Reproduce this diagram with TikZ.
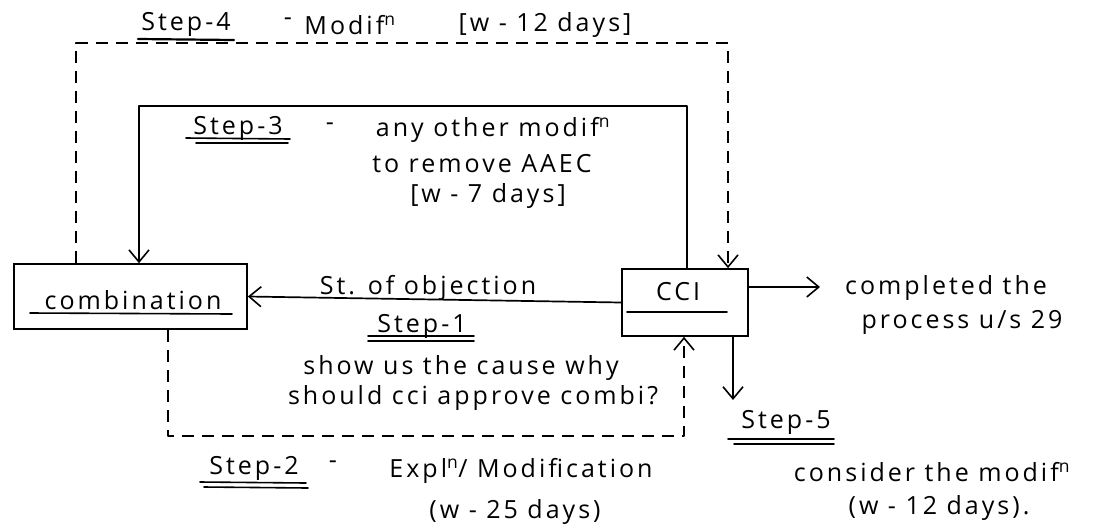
\documentclass[tikz,border=0pt]{standalone}
\usepackage{fontspec}
\setmainfont{Open Sans}[LetterSpace=12]
\usetikzlibrary{arrows.meta,calc}
\begin{document}
\begin{tikzpicture}[x=1pt,y=-1pt,
  hand/.style={line width=1.7pt, line cap=round, line join=round},
  dashline/.style={hand, line cap=butt, dash pattern=on 12pt off 8pt},
  tip/.style={-{Straight Barb[length=12pt,width=20pt,line width=1.6pt]}},
  box/.style={draw, line width=1.7pt, inner sep=0pt},
  lbl/.style={font=\fontsize{25}{30}\selectfont, inner sep=0pt},
  uline/.style={line width=1.6pt, line cap=round},
]
\useasboundingbox[fill=white] (0,0) rectangle (1110,528);

% the two parties
\node[box, minimum width=233pt, minimum height=65pt] (comb) at (130.5,296.5) {};
\node[box, minimum width=126pt, minimum height=67pt] (cci) at (685,302.5) {};
\node[lbl] (combt) at (133,300) {combination};
\draw[uline] (30,313) -- (232,314);
\node[lbl] (ccit) at (678,292) {CCI};
\draw[uline] (627,312) -- (727,312);

% route points of the connectors
\coordinate (s4l) at (76,43);
\coordinate (s4r) at (728,43);
\coordinate (s3l) at (139,106);
\coordinate (s3r) at (687,106);
\coordinate (s2l) at (168,436);
\coordinate (s2r) at (684,436);
\coordinate (done) at (820,287);
\coordinate (s5) at (733,400);

% step 1: statement of objection
\draw[hand, tip] (cci.west) -- (comb.east);
% step 2: explanation / modification
\draw[dashline, tip] (comb.south -| s2l) -- (s2l) -- (s2r) -- (cci.south -| s2r);
% step 3: other modification
\draw[hand, tip] (cci.north -| s3r) -- (s3r) -- (s3l) -- (comb.north -| s3l);
% step 4: modification
\draw[dashline, tip] (comb.north -| s4l) -- (s4l) -- (s4r) -- (cci.north -| s4r);
% outcomes
\draw[hand, tip] (cci.east |- done) -- (done);
\draw[hand, tip] (cci.south -| s5) -- (s5);

% step 4 label
\node[lbl] (st4) at (186,24) {Step-4};
\draw[uline, line width=2.2pt] (138,39) -- (234,40);
\node[lbl] (st4d) at (288,22) {-};
\node[lbl] (st4a) at (350,25) {Modif\textsuperscript{n}};
\node[lbl] (st4b) at (545,25) {[w - 12 days]};

% step 3 label
\node[lbl] (st3) at (238,128) {Step-3};
\draw[uline] (186,138) -- (290,139);
\draw[uline] (196,143) -- (288,143);
\node[lbl] (st3d) at (330,127) {-};
\node[lbl] (st3a) at (493,130) {any other modif\textsuperscript{n}};
\node[lbl] (st3b) at (482,164) {to remove AAEC};
\node[lbl] (st3c) at (488,196) {[w - 7 days]};

% step 1 label
\node[lbl] (obj) at (428,288) {St. of objection};
\node[lbl] (st1) at (422,326) {Step-1};
\draw[uline] (368,336) -- (474,336);
\draw[uline] (368,341) -- (474,341);
\node[lbl] (st1a) at (461,368) {show us the cause why};
\node[lbl] (st1b) at (473,398) {should cci approve combi?};

% step 2 label
\node[lbl] (st2) at (254,468) {Step-2};
\draw[uline] (200,482) -- (306,483);
\draw[uline] (204,487) -- (308,488);
\node[lbl] (st2d) at (333,465) {-};
\node[lbl] (st2a) at (521,471) {Expl\textsuperscript{n}/ Modification};
\node[lbl] (st2b) at (515,512) {(w - 25 days)};

% outcome labels
\node[lbl] (doneA) at (946,288) {completed the};
\node[lbl] (doneB) at (962,322) {process u/s 29};
\node[lbl] (st5) at (786,422) {Step-5};
\draw[uline] (728,439) -- (834,439);
\draw[uline] (734,444) -- (834,444);
\node[lbl] (st5a) at (932,472) {consider the modif\textsuperscript{n}};
\node[lbl] (st5b) at (939,508) {(w - 12 days).};
\end{tikzpicture}
\end{document}
